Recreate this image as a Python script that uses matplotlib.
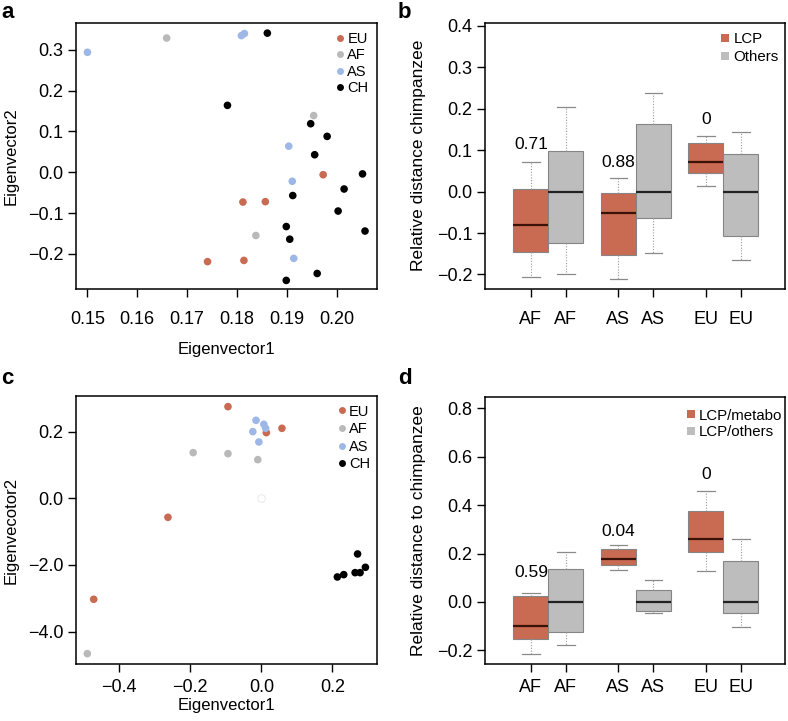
import numpy as np
import matplotlib
matplotlib.use("Agg")
import matplotlib.pyplot as plt

plt.rcParams['font.family'] = ['Liberation Sans', 'DejaVu Sans']

RED = '#c96a52'
GREY = '#bdbdbd'
BLUE = '#9db8e6'
AFG = '#b9b9b9'

# panel a: PCA points
a_groups = ['EU', 'AF', 'AS', 'CH']
a_x = {
    'EU': [0.1973, 0.1812, 0.1857, 0.1741, 0.1814],
    'AF': [0.1659, 0.1954, 0.1838],
    'AS': [0.1500, 0.1809, 0.1815, 0.1904, 0.1911, 0.1914],
    'CH': [0.1861, 0.1781, 0.1948, 0.1981, 0.1956, 0.2052, 0.2015, 0.1912,
           0.2003, 0.2057, 0.1899, 0.1906, 0.1961, 0.1899],
}
a_y = {
    'EU': [-0.006, -0.073, -0.072, -0.219, -0.216],
    'AF': [0.329, 0.139, -0.155],
    'AS': [0.294, 0.335, 0.340, 0.064, -0.022, -0.211],
    'CH': [0.341, 0.164, 0.119, 0.088, 0.043, -0.004, -0.041, -0.057,
           -0.095, -0.144, -0.133, -0.164, -0.248, -0.265],
}

# panel c: PCA points (negative part of y axis is compressed 10x)
c_x = {
    'EU': [-0.094, 0.014, 0.058, -0.263, -0.472],
    'AF': [-0.192, -0.094, -0.010, -0.490],
    'AS': [-0.015, 0.007, -0.024, 0.012, -0.007],
    'CH': [0.271, 0.293, 0.264, 0.278, 0.214, 0.232],
}
c_y = {
    'EU': [0.275, 0.197, 0.210, -0.57, -3.03],
    'AF': [0.137, 0.134, 0.116, -4.66],
    'AS': [0.234, 0.222, 0.200, 0.210, 0.169],
    'CH': [-1.67, -2.07, -2.23, -2.23, -2.36, -2.29],
}
c_open = (0.0, 0.0)

pt_colors = {'EU': RED, 'AF': AFG, 'AS': BLUE, 'CH': 'black'}

# panels b, d: box stats, order AF, AF, AS, AS, EU, EU
box_labels = ['AF', 'AF', 'AS', 'AS', 'EU', 'EU']
box_pos = [1, 2, 3.5, 4.5, 6, 7]
b_whislo = [-0.205, -0.199, -0.212, -0.149, 0.013, -0.165]
b_q1 = [-0.146, -0.124, -0.153, -0.064, 0.045, -0.106]
b_med = [-0.081, 0.0, -0.051, 0.0, 0.071, 0.0]
b_q3 = [0.007, 0.099, -0.004, 0.164, 0.118, 0.090]
b_whishi = [0.072, 0.204, 0.033, 0.239, 0.135, 0.145]
b_pvals = ['0.71', '0.88', '0']
b_pval_y = [0.114, 0.070, 0.175]

d_whislo = [-0.215, -0.176, 0.131, -0.047, 0.128, -0.102]
d_q1 = [-0.154, -0.123, 0.153, -0.039, 0.208, -0.047]
d_med = [-0.099, 0.0, 0.178, 0.0, 0.262, 0.0]
d_q3 = [0.025, 0.135, 0.218, 0.050, 0.376, 0.168]
d_whishi = [0.039, 0.208, 0.234, 0.092, 0.460, 0.260]
d_pvals = ['0.59', '0.04', '0']
d_pval_y = [0.123, 0.291, 0.528]

fig = plt.figure(figsize=(7.88, 7.21), dpi=100)
ax_a = fig.add_axes([0.0964, 0.5992, 0.382, 0.369])
ax_b = fig.add_axes([0.6151, 0.5992, 0.3807, 0.3695])
ax_c = fig.add_axes([0.0964, 0.0791, 0.382, 0.3717])
ax_d = fig.add_axes([0.6151, 0.0791, 0.3807, 0.3707])

TICK_FS = 13
LAB_FS = 12


def style(ax, xpad):
    for s in ax.spines.values():
        s.set_linewidth(1.1)
    ax.tick_params(direction='out', length=6, width=1.0, labelsize=TICK_FS)
    ax.tick_params(axis='x', pad=xpad)
    ax.tick_params(axis='y', pad=3)


def scatter_panel(ax, xs, ys, anchor, lspace):
    for g in a_groups:
        ax.scatter(xs[g], ys[g], s=30, color=pt_colors[g], edgecolors='none',
                   zorder=3)
    handles = [plt.Line2D([], [], marker='o', ls='none', color=pt_colors[g],
                          markersize=5, markeredgewidth=0) for g in a_groups]
    ax.legend(handles, a_groups, loc='upper right', bbox_to_anchor=anchor,
              frameon=False, fontsize=10.5, handletextpad=0.1,
              labelspacing=lspace, handlelength=0.8, borderaxespad=0,
              borderpad=0)


def box_panel(ax, lo, q1, med, q3, hi, pvals, pval_y, leg_labels, anchor,
              lspace):
    stats = []
    for i in range(len(box_labels)):
        stats.append(dict(whislo=lo[i], q1=q1[i], med=med[i], q3=q3[i],
                          whishi=hi[i], fliers=[]))
    colors = [RED, GREY] * 3
    bp = ax.bxp(stats, positions=box_pos, widths=1.0, patch_artist=True,
                showfliers=False, capwidths=0.5,
                whiskerprops=dict(color='#9a9a9a', linestyle=(0, (1, 1.5)), lw=0.8),
                capprops=dict(color='#8a8a8a', lw=0.9),
                medianprops=dict(lw=1.6))
    for patch, c in zip(bp['boxes'], colors):
        patch.set_facecolor(c)
        patch.set_edgecolor('#858585')
        patch.set_linewidth(0.8)
    for m, c in zip(bp['medians'], colors):
        m.set_color('#3a1208' if c == RED else '#222222')
    for k, txt in enumerate(pvals):
        ax.text(box_pos[2 * k], pval_y[k], txt, ha='center', va='center',
                fontsize=12.5)
    ax.set_xticks(box_pos)
    ax.set_xticklabels(box_labels)
    ax.set_xlim(-0.32, 8.25)
    handles = [plt.Line2D([], [], marker='s', ls='none', color=c,
                          markersize=6, markeredgewidth=0) for c in (RED, GREY)]
    ax.legend(handles, leg_labels, loc='upper right', bbox_to_anchor=anchor,
              frameon=False, fontsize=10.8, handletextpad=0.08,
              labelspacing=lspace, handlelength=1.0, borderaxespad=0,
              borderpad=0)


# a
scatter_panel(ax_a, a_x, a_y, (0.972, 0.965), 0.15)
ax_a.set_xlim(0.1477, 0.2081)
ax_a.set_ylim(-0.286, 0.366)
ax_a.set_xticks([0.15, 0.16, 0.17, 0.18, 0.19, 0.20])
ax_a.set_xticklabels(['0.15', '0.16', '0.17', '0.18', '0.19', '0.20'])
ax_a.set_yticks([-0.2, -0.1, 0.0, 0.1, 0.2, 0.3])
ax_a.set_yticklabels(['\u22120.2', '\u22120.1', '0.0', '0.1', '0.2', '0.3'])
style(ax_a, 10)
ax_a.set_xlabel('Eigenvector1', fontsize=LAB_FS, labelpad=10)
ax_a.set_ylabel('Eigenvector2', fontsize=LAB_FS, labelpad=7)

# b
box_panel(ax_b, b_whislo, b_q1, b_med, b_q3, b_whishi, b_pvals, b_pval_y,
          ['LCP', 'Others'], (0.981, 0.965), 0.3)
ax_b.set_ylim(-0.235, 0.408)
ax_b.set_yticks([-0.2, -0.1, 0.0, 0.1, 0.2, 0.3, 0.4])
ax_b.set_yticklabels(['\u22120.2', '\u22120.1', '0.0', '0.1', '0.2', '0.3', '0.4'])
style(ax_b, 10)
ax_b.set_ylabel('Relative distance chimpanzee', fontsize=12.5, labelpad=8)

# c
fwd = lambda y: np.where(np.asarray(y) >= 0, y, np.asarray(y) / 10.0)
inv = lambda p: np.where(np.asarray(p) >= 0, p, np.asarray(p) * 10.0)
ax_c.set_yscale('function', functions=(fwd, inv))
scatter_panel(ax_c, c_x, c_y, (0.977, 0.968), 0.25)
ax_c.scatter([c_open[0]], [c_open[1]], s=30, facecolor='white',
             edgecolors='#e6e6e6', linewidths=0.6, zorder=3)
ax_c.set_xlim(-0.522, 0.3256)
ax_c.set_ylim(-4.97, 0.307)
ax_c.set_xticks([-0.4, -0.2, 0.0, 0.2])
ax_c.set_xticklabels(['\u22120.4', '\u22120.2', '0.0', '0.2'])
ax_c.set_yticks([-4.0, -2.0, 0.0, 0.2])
ax_c.set_yticklabels(['\u22124.0', '\u22122.0', '0.0', '0.2'])
ax_c.minorticks_off()
style(ax_c, 5)
ax_c.set_xlabel('Eigenvector1', fontsize=LAB_FS, labelpad=1)
ax_c.set_ylabel('Eigenvecotor2', fontsize=LAB_FS, labelpad=7)

# d
box_panel(ax_d, d_whislo, d_q1, d_med, d_q3, d_whishi, d_pvals, d_pval_y,
          ['LCP/metabo', 'LCP/others'], (0.993, 0.955), 0.18)
ax_d.set_ylim(-0.256, 0.848)
ax_d.set_yticks([-0.2, 0.0, 0.2, 0.4, 0.6, 0.8])
ax_d.set_yticklabels(['\u22120.2', '0.0', '0.2', '0.4', '0.6', '0.8'])
style(ax_d, 5)
ax_d.set_ylabel('Relative distance to chimpanzee', fontsize=12.5, labelpad=8)

for lab, x, y in [('a', 0.002, 0.997), ('b', 0.505, 0.997),
                  ('c', 0.002, 0.49), ('d', 0.505, 0.49)]:
    fig.text(x, y, lab, fontsize=16, fontweight='bold', ha='left', va='top')

fig.savefig('out.png', dpi=100)
